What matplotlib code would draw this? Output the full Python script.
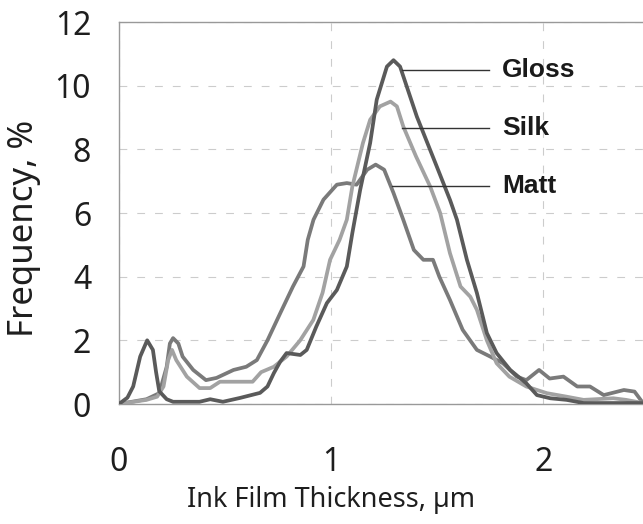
import numpy as np
import matplotlib.pyplot as plt

# --- data ---
gloss_x = [0, 0.04, 0.067, 0.10, 0.133, 0.16, 0.175, 0.19, 0.225, 0.255, 0.38, 0.43, 0.49,
           0.57, 0.665, 0.70, 0.73, 0.76, 0.79, 0.855, 0.885, 0.93, 0.98, 1.027, 1.074,
           1.10, 1.137, 1.184, 1.215, 1.263, 1.294, 1.325, 1.404, 1.498, 1.561, 1.593,
           1.64, 1.687, 1.734, 1.78, 1.844, 1.92, 1.97, 2.033, 2.11, 2.19, 2.47]
gloss_y = [0, 0.2, 0.55, 1.49, 2.0, 1.7, 1.0, 0.4, 0.15, 0.07, 0.07, 0.15, 0.07,
           0.19, 0.35, 0.55, 0.97, 1.33, 1.6, 1.54, 1.7, 2.43, 3.17, 3.58, 4.32,
           5.37, 6.73, 8.2, 9.56, 10.6, 10.8, 10.6, 9.03, 7.46, 6.4, 5.79,
           4.53, 3.49, 2.23, 1.6, 1.07, 0.65, 0.28, 0.18, 0.13, 0.03, 0.03]

silk_x = [0, 0.13, 0.18, 0.21, 0.232, 0.25, 0.27, 0.32, 0.38, 0.43, 0.476, 0.54, 0.63,
          0.67, 0.73, 0.79, 0.854, 0.916, 0.96, 0.995, 1.04, 1.074, 1.10, 1.15, 1.184,
          1.23, 1.28, 1.31, 1.34, 1.40, 1.467, 1.514, 1.56, 1.61, 1.656, 1.687, 1.734,
          1.78, 1.84, 1.92, 2.017, 2.11, 2.19, 2.33, 2.39, 2.47]
silk_y = [0, 0.13, 0.23, 0.55, 1.38, 1.7, 1.38, 0.86, 0.5, 0.5, 0.7, 0.7, 0.7,
          1.0, 1.17, 1.49, 2.0, 2.64, 3.5, 4.53, 5.16, 5.79, 6.83, 8.2, 8.93,
          9.35, 9.5, 9.35, 8.72, 7.78, 6.83, 6.0, 4.74, 3.69, 3.37, 2.96, 2.0,
          1.28, 0.86, 0.55, 0.34, 0.23, 0.13, 0.18, 0.13, 0.03]

matt_x = [0, 0.13, 0.19, 0.225, 0.24, 0.255, 0.28, 0.30, 0.35, 0.41, 0.46, 0.54, 0.60,
          0.65, 0.70, 0.76, 0.82, 0.87, 0.89, 0.917, 0.964, 1.027, 1.074, 1.12, 1.17,
          1.21, 1.25, 1.294, 1.34, 1.39, 1.435, 1.48, 1.51, 1.56, 1.62, 1.687, 1.75,
          1.81, 1.875, 1.92, 1.98, 2.03, 2.095, 2.16, 2.22, 2.285, 2.38, 2.43, 2.47]
matt_y = [0, 0.15, 0.34, 1.17, 1.9, 2.07, 1.9, 1.49, 1.07, 0.75, 0.82, 1.07, 1.17,
          1.38, 2.0, 2.85, 3.69, 4.32, 5.16, 5.79, 6.42, 6.89, 6.94, 6.89, 7.36,
          7.52, 7.36, 6.63, 5.79, 4.84, 4.53, 4.53, 4.0, 3.27, 2.33, 1.7, 1.49,
          1.28, 0.86, 0.75, 1.07, 0.8, 0.86, 0.55, 0.55, 0.28, 0.44, 0.39, 0.03]

labels = ["Gloss", "Silk", "Matt"]
label_y = [10.5, 8.68, 6.86]
leader_x0 = [1.335, 1.335, 1.288]

plt.rcParams["font.family"] = ["Noto Sans", "DejaVu Sans"]

fig = plt.figure(figsize=(6.43, 5.24), dpi=100)
ax = fig.add_axes([0.185, 0.229, 0.815, 0.729])

lw = 2.7
ax.plot(matt_x, matt_y, color="#7a7a7a", lw=lw, zorder=3, solid_joinstyle="round")
ax.plot(silk_x, silk_y, color="#a2a2a2", lw=lw, zorder=4, solid_joinstyle="round")
ax.plot(gloss_x, gloss_y, color="#5a5a5a", lw=lw, zorder=5, solid_joinstyle="round")

# leader lines and labels
for lab, yy, x0 in zip(labels, label_y, leader_x0):
    ax.plot([x0, 1.745], [yy, yy], color="#333333", lw=1.0, zorder=6)
    ax.text(1.805, yy, lab, fontsize=19, fontweight="bold", family="Liberation Sans",
            color="#1a1a1a", va="center", ha="left")

ax.set_xlim(0, 2.47)
ax.set_ylim(0, 12)
ax.set_xticks([0, 1, 2])
ax.set_yticks([0, 2, 4, 6, 8, 10, 12])
ax.tick_params(length=0, labelsize=23, colors="#1e1e1e")
ax.tick_params(axis="y", pad=20)
ax.tick_params(axis="x", pad=30)

ax.grid(True, color="#cccccc", linestyle=(0, (7, 9)), linewidth=0.8)
ax.set_axisbelow(True)
for s in ["left", "bottom", "top"]:
    ax.spines[s].set_color("#999999")
    ax.spines[s].set_linewidth(1.0)
ax.spines["right"].set_visible(False)

fig.text(24 / 643, 1 - 228 / 524, "Frequency, %", fontsize=25, color="#1e1e1e",
         rotation=90, ha="center", va="center")
fig.text(331 / 643, 1 - 500 / 524, "Ink Film Thickness, µm", fontsize=19.5,
         color="#1e1e1e", ha="center", va="center")

fig.savefig("out.png", dpi=100)
